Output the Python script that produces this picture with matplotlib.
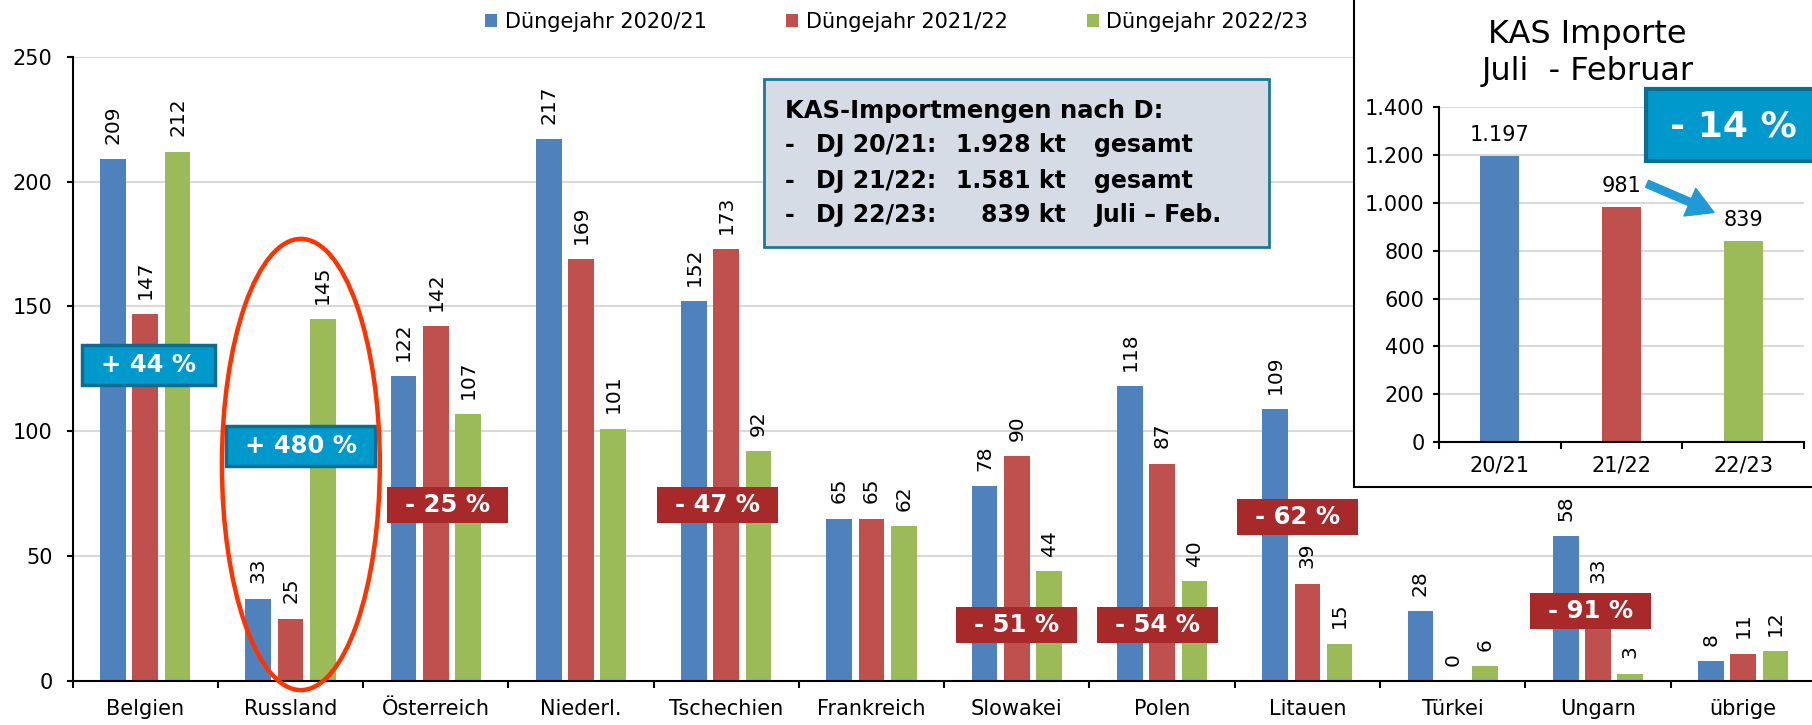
import matplotlib.pyplot as plt
import numpy as np
from matplotlib.patches import Rectangle, Ellipse
from matplotlib.ticker import FuncFormatter

plt.rcParams['font.family'] = ['DejaVu Sans']

countries = ['Belgien', 'Russland', 'Österreich', 'Niederl.', 'Tschechien', 'Frankreich',
             'Slowakei', 'Polen', 'Litauen', 'Türkei', 'Ungarn', 'übrige']
dj_2020_21 = [209, 33, 122, 217, 152, 65, 78, 118, 109, 28, 58, 8]
dj_2021_22 = [147, 25, 142, 169, 173, 65, 90, 87, 39, 0, 33, 11]
dj_2022_23 = [212, 145, 107, 101, 92, 62, 44, 40, 15, 6, 3, 12]
series_labels = ['Düngejahr 2020/21', 'Düngejahr 2021/22', 'Düngejahr 2022/23']
colors = ['#4f81bd', '#c0504d', '#9bbb59']

# Veränderung 22/23 ggü. 21/22 (Position x, y, Text)
changes_up = [(0.02, 126.5, '+ 44 %', 0.915), (1.07, 94.0, '+ 480 %', 1.025)]
changes_down = [(2.08, 70.3, '- 25 %'), (3.94, 70.3, '- 47 %'), (6.0, 22.5, '- 51 %'),
                (6.97, 22.5, '- 54 %'), (7.93, 65.7, '- 62 %'), (9.95, 28.0, '- 91 %')]

inset_years = ['20/21', '21/22', '22/23']
inset_totals = [1197, 981, 839]
inset_labels = ['1.197', '981', '839']

fig = plt.figure(figsize=(18.12, 7.25), dpi=100)
ax = fig.add_axes([0.0401, 0.0607, 0.962, 0.8611])

x = np.arange(len(countries))
bw = 0.177
bars = []
for k, (vals, c) in enumerate(zip([dj_2020_21, dj_2021_22, dj_2022_23], colors)):
    xs = x + (k - 1) * 0.222
    b = ax.bar(xs, vals, width=bw, color=c, zorder=2)
    bars.append(b)
    for xi, v in zip(xs, vals):
        ax.annotate(str(v), (xi, v), xytext=(0, 11), textcoords='offset points',
                    rotation=90, ha='center', va='bottom', fontsize=14.5, zorder=3)

ax.set_xlim(-0.5, 11.5)
ax.set_ylim(0, 250)
ax.set_yticks(range(0, 251, 50))
ax.set_xticks(x)
ax.set_xticklabels(countries, fontsize=15)
ax.set_xticks(np.arange(-0.5, 12, 1), minor=True)
ax.tick_params(axis='x', which='major', length=0, pad=13)
ax.tick_params(axis='x', which='minor', length=5, width=1.5)
ax.tick_params(axis='y', length=4.5, width=1.5, labelsize=15, pad=10)
ax.grid(axis='y', color='#d9d9d9', lw=1.5, zorder=0)
ax.set_axisbelow(True)
for s in ['top', 'right']:
    ax.spines[s].set_visible(False)
ax.spines['left'].set_linewidth(1.5)
ax.spines['bottom'].set_linewidth(1.5)

for cx, cy, t, w in changes_up:
    h = 16.2
    ax.add_patch(Rectangle((cx - w / 2, cy - h / 2), w, h, facecolor='#0099cc',
                           edgecolor='#0b6e91', lw=2.5, zorder=5))
    ax.text(cx, cy, t, ha='center', va='center', color='white', fontsize=17.5,
            fontweight='bold', zorder=6)
for cx, cy, t in changes_down:
    w, h = 0.833, 14.4
    ax.add_patch(Rectangle((cx - w / 2, cy - h / 2), w, h, facecolor='#a8292a',
                           edgecolor='none', zorder=5))
    ax.text(cx, cy, t, ha='center', va='center', color='white', fontsize=17.5,
            fontweight='bold', zorder=6)

ax.add_patch(Ellipse((1.071, 86.7), 1.087, 180.7, fill=False, edgecolor='#ff3300',
                     lw=3.2, zorder=7, clip_on=False))

fig.legend(handles=bars, labels=series_labels, loc='center', bbox_to_anchor=(0.4948, 0.970),
           ncol=3, frameon=False, fontsize=15, handlelength=0.6, handleheight=0.6,
           handletextpad=0.35, columnspacing=3.8, borderaxespad=0)

# Infobox
fig.add_artist(Rectangle((0.4218, 0.6589), 0.2785, 0.2317, transform=fig.transFigure,
                         facecolor='#d5dce6', edgecolor='#1f7896', lw=2, zorder=2))
fig.text(0.4332, 0.8473, 'KAS-Importmengen nach D:', fontsize=17.5, fontweight='bold',
         va='center', zorder=3)
rows = [('DJ 20/21:', '1.928 kt', 'gesamt'), ('DJ 21/22:', '1.581 kt', 'gesamt'),
        ('DJ 22/23:', '839 kt', 'Juli – Feb.')]
for (a, b, c), yy in zip(rows, [0.800, 0.7508, 0.7034]):
    fig.text(0.4332, yy, '-', fontsize=17, fontweight='bold', va='center', zorder=3)
    fig.text(0.4505, yy, a, fontsize=17, fontweight='bold', va='center', zorder=3)
    fig.text(0.5880, yy, b, fontsize=17, fontweight='bold', va='center', ha='right', zorder=3)
    fig.text(0.6040, yy, c, fontsize=17, fontweight='bold', va='center', zorder=3)

# Inset
fig.add_artist(Rectangle((0.747, 0.328), 0.3, 0.7, transform=fig.transFigure,
                         facecolor='white', edgecolor='black', lw=1.5, zorder=3))
ax_in = fig.add_axes([0.7942, 0.3903, 0.2014, 0.4617], zorder=4)
xi = np.arange(len(inset_years))
ax_in.bar(xi, inset_totals, width=0.32, color=colors, zorder=2)
for xx, v, lab in zip(xi, inset_totals, inset_labels):
    ax_in.annotate(lab, (xx, v), xytext=(0, 8), textcoords='offset points',
                   ha='center', va='bottom', fontsize=15)
ax_in.set_xlim(-0.5, 2.5)
ax_in.set_ylim(0, 1400)
ax_in.set_yticks(range(0, 1401, 200))
ax_in.yaxis.set_major_formatter(FuncFormatter(lambda v, p: f'{v:,.0f}'.replace(',', '.')))
ax_in.set_xticks(xi)
ax_in.set_xticklabels(inset_years, fontsize=15)
ax_in.set_xticks(np.arange(-0.5, 3, 1), minor=True)
ax_in.tick_params(axis='x', which='major', length=0, pad=10)
ax_in.tick_params(axis='x', which='minor', length=5, width=1.5)
ax_in.tick_params(axis='y', length=4.5, width=1.5, labelsize=15, pad=6)
ax_in.grid(axis='y', color='#d9d9d9', lw=1.5, zorder=0)
ax_in.set_axisbelow(True)
for s in ['top', 'right']:
    ax_in.spines[s].set_visible(False)
ax_in.spines['left'].set_linewidth(1.5)
ax_in.spines['bottom'].set_linewidth(1.5)
ax_in.annotate('', xy=(1.76, 960), xytext=(1.21, 1080),
               arrowprops=dict(arrowstyle='simple,head_length=0.7,head_width=0.8,tail_width=0.2',
                               color='#1f9ad6', mutation_scale=27, shrinkA=0, shrinkB=0),
               annotation_clip=False)

fig.text(0.8761, 0.9407, 'KAS Importe', fontsize=23, ha='center', va='baseline', zorder=5)
fig.text(0.8761, 0.8897, 'Juli  - Februar', fontsize=23, ha='center', va='baseline', zorder=5)

fig.add_artist(Rectangle((0.9084, 0.7783), 0.1, 0.0989, transform=fig.transFigure,
                         facecolor='#0099cc', edgecolor='#0b6e91', lw=3, zorder=5))
fig.text(0.9564, 0.826, '- 14 %', fontsize=26, fontweight='bold', color='white',
         ha='center', va='center', zorder=6)

fig.savefig('out.png', dpi=100)
